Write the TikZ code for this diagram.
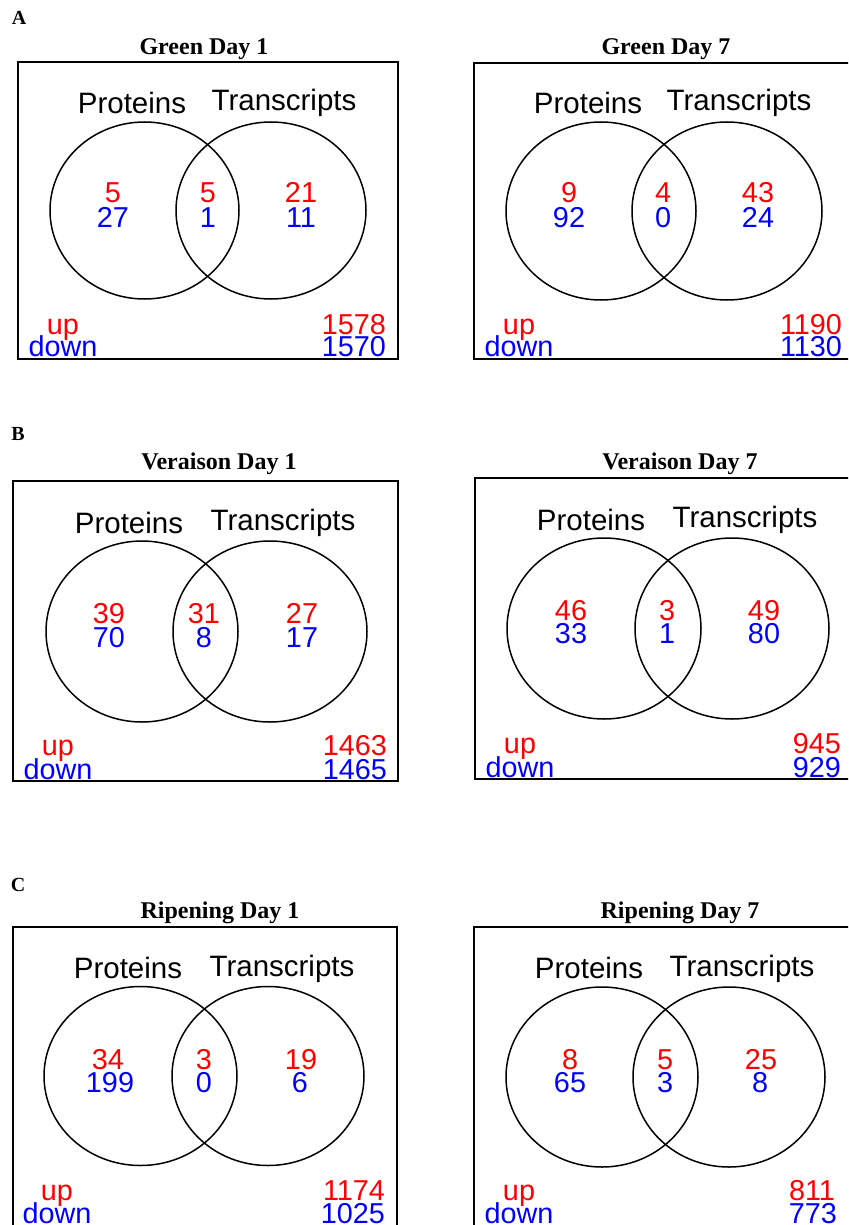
\documentclass[tikz,border=0pt]{standalone}
\usepackage{fontspec}
\newfontfamily\sansf{Liberation Sans}
\newfontfamily\seriff{Liberation Serif}
\usetikzlibrary{shapes.geometric}
\tikzset{
  every node/.style={inner sep=0pt, outer sep=0pt},
  ttl/.style={font=\seriff\bfseries\fontsize{24}{24}\selectfont, anchor=base},
  plet/.style={font=\seriff\bfseries\fontsize{20}{20}\selectfont, anchor=base},
  setlbl/.style={font=\sansf\fontsize{29.5}{29.5}\selectfont, anchor=base},
  upnum/.style={font=\sansf\fontsize{28.8}{28.8}\selectfont, anchor=base, text=red},
  dnnum/.style={font=\sansf\fontsize{28.8}{28.8}\selectfont, anchor=base, text=blue},
  vbox/.style={draw, line width=2pt},
  vset/.style={draw, ellipse, line width=1.5pt},
}
\begin{document}
\begin{tikzpicture}[x=1pt,y=-1pt]
\clip (0,0) rectangle (848,1225);
\fill[white] (0,0) rectangle (848,1225);

% ---------- A left: Green Day 1
\node[plet] (la) at (19,25) {A};
\node[ttl] (t1) at (204,55) {Green Day 1};
\node[vbox, anchor=north west, minimum width=380pt, minimum height=297pt] (b1) at (18,62) {};
\node[vset, minimum width=189pt, minimum height=177pt] (p1) at (144.5,210.5) {};
\node[vset, minimum width=190pt, minimum height=177pt] (r1) at (271,210.5) {};
\node[setlbl] (pl1) at (132,114) {Proteins};
\node[setlbl] (tl1) at (284,111) {Transcripts};
\node[upnum] (a1u) at (113,203) {5};
\node[upnum] (a1m) at (208,203) {5};
\node[upnum] (a1r) at (301,203) {21};
\node[dnnum] (a1d) at (113,227) {27};
\node[dnnum] (a1n) at (208,227) {1};
\node[dnnum] (a1s) at (301,227) {11};
\node[upnum] (up1) at (63,334) {up};
\node[dnnum] (dn1) at (63,356) {down};
\node[upnum, anchor=base east] (tu1) at (386,334) {1578};
\node[dnnum, anchor=base east] (td1) at (386,356) {1570};

% ---------- A right: Green Day 7
\node[ttl] (t2) at (666,55) {Green Day 7};
\node[vbox, anchor=north west, minimum width=390pt, minimum height=296pt] (b2) at (474,63) {};
\node[vset, minimum width=190pt, minimum height=178pt] (p2) at (601,211) {};
\node[vset, minimum width=190pt, minimum height=178pt] (r2) at (727,211) {};
\node[setlbl] (pl2) at (588,114) {Proteins};
\node[setlbl] (tl2) at (739,111) {Transcripts};
\node[upnum] (a2u) at (569,203) {9};
\node[upnum] (a2m) at (663,203) {4};
\node[upnum] (a2r) at (758,203) {43};
\node[dnnum] (a2d) at (569,227) {92};
\node[dnnum] (a2n) at (663,227) {0};
\node[dnnum] (a2s) at (758,227) {24};
\node[upnum] (up2) at (519,334) {up};
\node[dnnum] (dn2) at (519,356) {down};
\node[upnum, anchor=base east] (tu2) at (842,334) {1190};
\node[dnnum, anchor=base east] (td2) at (842,356) {1130};

% ---------- B left: Veraison Day 1
\node[plet] (lb) at (18,440) {B};
\node[ttl] (t3) at (219,469) {Veraison Day 1};
\node[vbox, anchor=north west, minimum width=385pt, minimum height=300pt] (b3) at (13,481) {};
\node[vset, minimum width=192pt, minimum height=181pt] (p3) at (142,631.5) {};
\node[vset, minimum width=194pt, minimum height=181pt] (r3) at (270,631.5) {};
\node[setlbl] (pl3) at (129,533) {Proteins};
\node[setlbl] (tl3) at (283,530) {Transcripts};
\node[upnum] (b1u) at (109,623) {39};
\node[upnum] (b1m) at (204,623) {31};
\node[upnum] (b1r) at (302,623) {27};
\node[dnnum] (b1d) at (109,647) {70};
\node[dnnum] (b1n) at (204,647) {8};
\node[dnnum] (b1s) at (302,647) {17};
\node[upnum] (up3) at (58,755) {up};
\node[dnnum] (dn3) at (58,779) {down};
\node[upnum, anchor=base east] (tu3) at (387,755) {1463};
\node[dnnum, anchor=base east] (td3) at (387,779) {1465};

% ---------- B right: Veraison Day 7
\node[ttl] (t4) at (680,469) {Veraison Day 7};
\node[vbox, anchor=north west, minimum width=390pt, minimum height=301pt] (b4) at (475,478) {};
\node[vset, minimum width=194pt, minimum height=181pt] (p4) at (604,628.5) {};
\node[vset, minimum width=194pt, minimum height=181pt] (r4) at (732,628.5) {};
\node[setlbl] (pl4) at (591,530) {Proteins};
\node[setlbl] (tl4) at (745,527) {Transcripts};
\node[upnum] (b2u) at (571,620) {46};
\node[upnum] (b2m) at (667,620) {3};
\node[upnum] (b2r) at (764,620) {49};
\node[dnnum] (b2d) at (571,643) {33};
\node[dnnum] (b2n) at (667,643) {1};
\node[dnnum] (b2s) at (764,643) {80};
\node[upnum] (up4) at (520,753) {up};
\node[dnnum] (dn4) at (520,777) {down};
\node[upnum, anchor=base east] (tu4) at (841,753) {945};
\node[dnnum, anchor=base east] (td4) at (841,777) {929};

% ---------- C left: Ripening Day 1
\node[plet] (lc) at (18,891) {C};
\node[ttl] (t5) at (220,918) {Ripening Day 1};
\node[vbox, anchor=north west, minimum width=384pt, minimum height=320pt] (b5) at (13,927) {};
\node[vset, minimum width=193pt, minimum height=179pt] (p5) at (140.5,1076) {};
\node[vset, minimum width=192pt, minimum height=179pt] (r5) at (268,1076) {};
\node[setlbl] (pl5) at (128,978) {Proteins};
\node[setlbl] (tl5) at (282,976) {Transcripts};
\node[upnum] (c1u) at (108,1069) {34};
\node[upnum] (c1m) at (204,1069) {3};
\node[upnum] (c1r) at (301,1069) {19};
\node[dnnum] (c1d) at (110,1092) {199};
\node[dnnum] (c1n) at (204,1092) {0};
\node[dnnum] (c1s) at (300,1092) {6};
\node[upnum] (up5) at (57,1200) {up};
\node[dnnum] (dn5) at (57,1223) {down};
\node[upnum, anchor=base east] (tu5) at (385,1200) {1174};
\node[dnnum, anchor=base east] (td5) at (385,1223) {1025};

% ---------- C right: Ripening Day 7
\node[ttl] (t6) at (680,918) {Ripening Day 7};
\node[vbox, anchor=north west, minimum width=390pt, minimum height=320pt] (b6) at (474,927) {};
\node[vset, minimum width=192pt, minimum height=180pt] (p6) at (602,1077) {};
\node[vset, minimum width=192pt, minimum height=180pt] (r6) at (729,1077) {};
\node[setlbl] (pl6) at (589,978) {Proteins};
\node[setlbl] (tl6) at (742,976) {Transcripts};
\node[upnum] (c2u) at (570,1069) {8};
\node[upnum] (c2m) at (665,1069) {5};
\node[upnum] (c2r) at (761,1069) {25};
\node[dnnum] (c2d) at (570,1092) {65};
\node[dnnum] (c2n) at (665,1092) {3};
\node[dnnum] (c2s) at (760,1092) {8};
\node[upnum] (up6) at (519,1200) {up};
\node[dnnum] (dn6) at (519,1223) {down};
\node[upnum, anchor=base east] (tu6) at (835,1200) {811};
\node[dnnum, anchor=base east] (td6) at (837,1223) {773};
\end{tikzpicture}
\end{document}
